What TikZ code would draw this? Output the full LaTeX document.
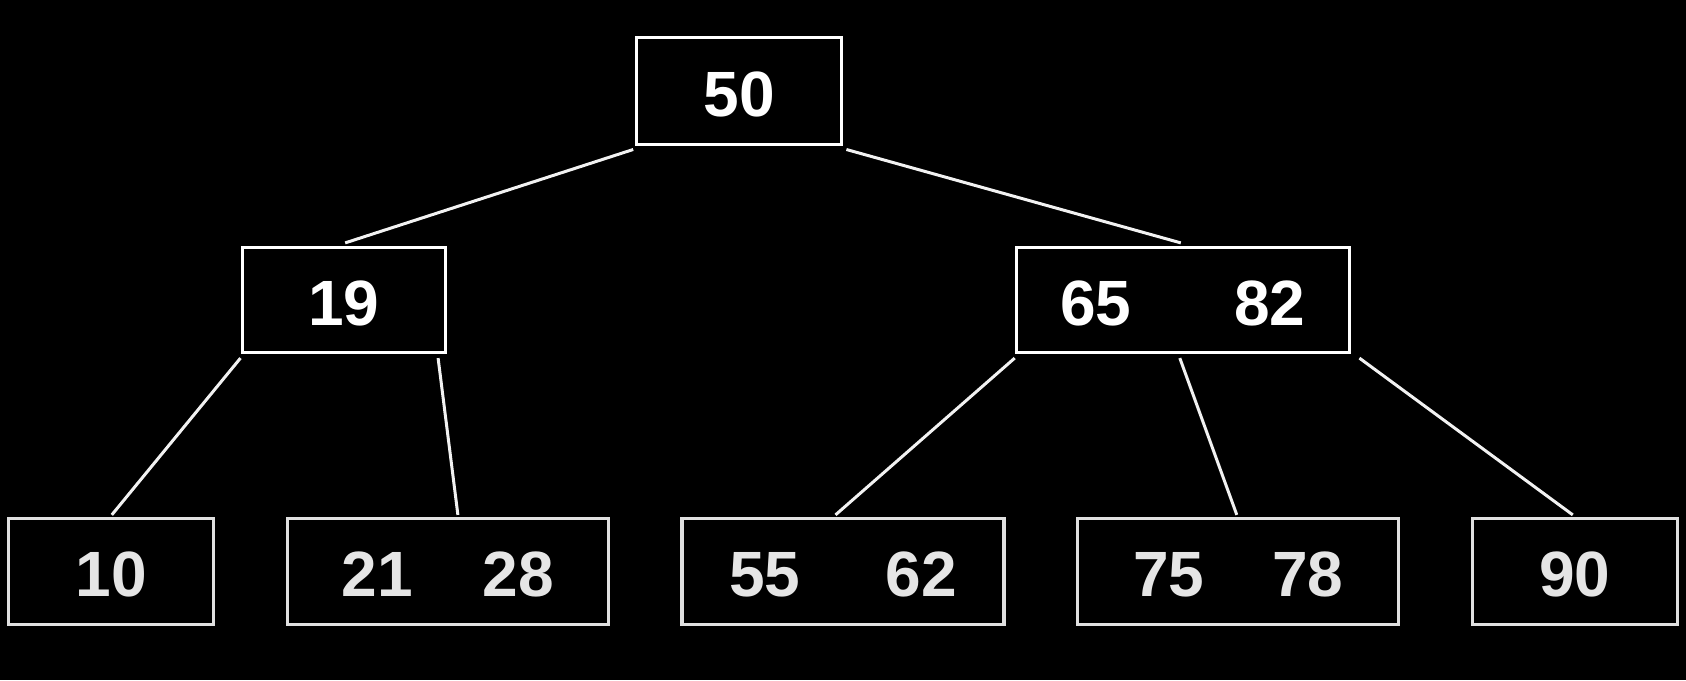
\documentclass[tikz,border=0pt]{standalone}
\usepackage{fontspec}
\setmainfont{Liberation Sans}
\newcommand{\keytxt}[1]{\raisebox{-3pt}[\height][\depth]{#1}}
\begin{document}
\begin{tikzpicture}[x=1pt,y=1pt,
  keybox/.style={draw=white,line width=3.2pt,fill=black,inner sep=0pt,
    minimum height=106pt,text=white,font=\fontsize{64}{70}\selectfont\bfseries},
  leafbox/.style={keybox,draw=white!88!black,text=white!90!black},
  edge/.style={draw=white!95!black,line width=3pt}]
\fill[black] (0,0) rectangle (1686,680);
\useasboundingbox (0,0) rectangle (1686,680);
% level 0
\node[keybox,minimum width=205pt,minimum height=107pt] (root) at (739.3,588.6) {\keytxt{50}};
% level 1
\node[keybox,minimum width=203pt,minimum height=105pt] (n19) at (343.6,380) {\keytxt{19}};
\node[keybox,minimum width=333pt,minimum height=105pt] (n6582) at (1182.8,380) {\keytxt{65\hspace{103pt}82}};
% leaves
\node[leafbox,minimum width=205pt] (n10) at (111.3,108.5) {\keytxt{10}};
\node[leafbox,minimum width=321pt] (n2128) at (447.9,108.5) {\keytxt{21\hspace{70pt}28}};
\node[leafbox,minimum width=322pt] (n5562) at (843,108.5) {\keytxt{55\hspace{85pt}62}};
\node[leafbox,minimum width=321pt] (n7578) at (1238.3,108.5) {\keytxt{75\hspace{68pt}78}};
\node[leafbox,minimum width=205pt] (n90) at (1574.8,108.5) {\keytxt{90}};
% connectors
\draw[edge] ([shift={(-2,-3)}]root.south west) -- ([shift={(1.6,3)}]n19.north);
\draw[edge] ([shift={(3,-3)}]root.south east) -- ([shift={(-2,3)}]n6582.north);
\draw[edge] ([shift={(0,-4)}]n19.south west) -- ([shift={(0.5,2)}]n10.north);
\draw[edge] ([shift={(-8.6,-4)}]n19.south east) -- ([shift={(10,2)}]n2128.north);
\draw[edge] ([shift={(0,-4)}]n6582.south west) -- ([shift={(-7.5,2)}]n5562.north);
\draw[edge] ([shift={(-3,-4)}]n6582.south) -- ([shift={(-1.5,2)}]n7578.north);
\draw[edge] ([shift={(8.5,-4)}]n6582.south east) -- ([shift={(-2,2)}]n90.north);
\end{tikzpicture}
\end{document}
